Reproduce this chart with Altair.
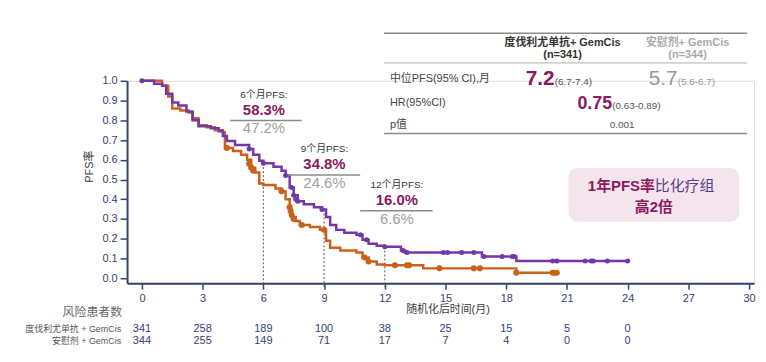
import altair as alt
import pandas as pd

# ---------------- data ----------------
durva_t = [0, 0.6, 1.0, 1.2, 1.5, 1.8, 2.2, 2.5, 2.8, 3.4, 3.8, 4.0, 4.2, 4.6, 5.3, 5.5, 5.8, 6.0,
           6.5, 6.9, 7.1, 7.3, 7.5, 7.7, 8.0, 8.5, 8.9, 9.1, 9.3, 9.6, 10.0, 10.6, 10.9, 11.2, 11.6,
           12.0, 12.8, 13.0, 16.8, 18.5, 24.0]
durva_s = [1.0, 0.985, 0.975, 0.935, 0.89, 0.875, 0.845, 0.80, 0.77, 0.76, 0.745, 0.72, 0.695, 0.675,
           0.655, 0.625, 0.595, 0.583, 0.565, 0.545, 0.52, 0.46, 0.42, 0.39, 0.375, 0.36, 0.348, 0.31,
           0.27, 0.245, 0.23, 0.22, 0.195, 0.175, 0.165, 0.16, 0.14, 0.13, 0.11, 0.087, 0.087]

plac_t = [0, 1.0, 1.3, 1.5, 1.9, 2.3, 2.5, 2.8, 3.2, 3.6, 4.0, 4.1, 4.5, 4.9, 5.2, 5.4, 5.6, 5.8, 6.0,
          6.6, 6.9, 7.1, 7.3, 7.4, 7.6, 7.8, 8.3, 8.8, 9.1, 9.3, 9.8, 10.6, 10.9, 11.2, 11.6, 12.0,
          13.9, 18.5, 20.5]
plac_s = [1.0, 0.975, 0.92, 0.86, 0.85, 0.84, 0.81, 0.775, 0.765, 0.75, 0.74, 0.66, 0.645, 0.625, 0.60,
          0.56, 0.535, 0.48, 0.472, 0.455, 0.44, 0.40, 0.35, 0.31, 0.29, 0.27, 0.26, 0.245, 0.19, 0.155,
          0.14, 0.13, 0.105, 0.085, 0.07, 0.066, 0.05, 0.028, 0.028]

durva_cens_t = [0, 5.3, 6.0, 7.1, 7.4, 7.5, 7.6, 7.7, 8.9, 10.8, 11.1, 12.0, 12.9, 13.1, 14.9, 15.1,
                15.8, 16.4, 16.9, 17.8, 18.3, 18.4, 20.3, 20.5, 21.9, 22.2, 22.3, 23.0, 24.0]
durva_cens_s = [1.0, 0.655, 0.583, 0.52, 0.46, 0.42, 0.40, 0.39, 0.348, 0.22, 0.195, 0.16, 0.14, 0.13,
                0.13, 0.13, 0.13, 0.13, 0.11, 0.11, 0.11, 0.11, 0.087, 0.087, 0.087, 0.087, 0.087,
                0.087, 0.087]

plac_cens_t = [4.2, 5.3, 5.4, 5.5, 6.9, 7.3, 7.35, 7.4, 7.5, 7.9, 9.0, 11.0, 11.2, 12.5, 13.1, 13.2,
               14.7, 16.4, 16.7, 18.5, 20.3, 20.4, 20.5]
plac_cens_s = [0.66, 0.58, 0.56, 0.545, 0.44, 0.36, 0.34, 0.32, 0.30, 0.27, 0.245, 0.105, 0.085,
               0.066, 0.066, 0.066, 0.05, 0.05, 0.05, 0.028, 0.028, 0.028, 0.028]

landmark_t = [6, 9, 12]
landmark_s = [0.583, 0.348, 0.16]

risk_t = [0, 3, 6, 9, 12, 15, 18, 21, 24]
risk_durva = [341, 258, 189, 100, 38, 25, 15, 5, 0]
risk_plac = [344, 255, 149, 71, 17, 7, 4, 0, 0]

x_ticks = [0, 3, 6, 9, 12, 15, 18, 21, 24, 27, 30]
y_ticks = [0.0, 0.1, 0.2, 0.3, 0.4, 0.5, 0.6, 0.7, 0.8, 0.9, 1.0]

# ---------------- styles ----------------
PURPLE = "#7437A8"
ORANGE = "#C8621A"
MAGENTA = "#8A1A5C"
GRAY = "#A0A0A0"
NAVY = "#33426E"
DARK = "#404040"
FONT = "Liberation Sans, Arial, Noto Sans CJK SC, sans-serif"

W, H = 632, 204
xs = alt.Scale(domain=[-0.735, 30.245], nice=False, zero=False)
ys = alt.Scale(domain=[-0.025, 1.0], nice=False, zero=False)

x_axis = alt.Axis(values=x_ticks, grid=False, domainColor=NAVY, domainWidth=2, tickColor=NAVY,
                  tickWidth=1.5, tickSize=6, labelColor=NAVY, labelFontSize=11, labelPadding=3,
                  title="随机化后时间(月)", titleFontSize=11, titleFontWeight="normal",
                  titleColor=DARK, titleX=323, titleY=27, titleBaseline="middle")
y_axis = alt.Axis(values=y_ticks, format=".1f", grid=False, domainColor=NAVY, domainWidth=2,
                  tickColor=NAVY, tickWidth=1.5, tickSize=7, labelColor=NAVY, labelFontSize=11,
                  labelPadding=3, title="PFS率", titleFontSize=11, titleFontWeight="normal",
                  titleColor=DARK, titleX=-38, titleY=86, titleBaseline="middle")

durva_df = pd.DataFrame({"t": durva_t, "s": durva_s})
plac_df = pd.DataFrame({"t": plac_t, "s": plac_s})
durva_c = pd.DataFrame({"t": durva_cens_t, "s": durva_cens_s})
plac_c = pd.DataFrame({"t": plac_cens_t, "s": plac_cens_s})
land_df = pd.DataFrame({"t": landmark_t, "s": landmark_s})


def X(field="t"):
    return alt.X(f"{field}:Q", scale=xs, axis=x_axis)


def Y(field="s"):
    return alt.Y(f"{field}:Q", scale=ys, axis=y_axis)


rules = alt.Chart(land_df).mark_rule(color="#555555", strokeDash=[2, 2], strokeWidth=1).encode(
    x=X(), y=Y(), y2=alt.value(H + 4))

plac_line = alt.Chart(plac_df).mark_line(interpolate="step-after", color=ORANGE, strokeWidth=2.5).encode(
    x=X(), y=Y())
durva_line = alt.Chart(durva_df).mark_line(interpolate="step-after", color=PURPLE, strokeWidth=2.5).encode(
    x=X(), y=Y())
plac_pts = alt.Chart(plac_c).mark_circle(color=ORANGE, size=38, opacity=1).encode(x=X(), y=Y())
durva_pts = alt.Chart(durva_c).mark_circle(color=PURPLE, size=26, opacity=1).encode(x=X(), y=Y())

risk1 = alt.Chart(pd.DataFrame({"t": risk_t, "n": risk_durva})).mark_text(
    fontSize=11, color=NAVY).encode(x=X(), y=alt.value(250), text="n:Q")
risk2 = alt.Chart(pd.DataFrame({"t": risk_t, "n": risk_plac})).mark_text(
    fontSize=11, color=NAVY).encode(x=X(), y=alt.value(262), text="n:Q")

ONE = alt.Data(values=[{}])
OX, OY = 128, 80  # page position of plot origin


def txt(s, x, y, size=11, color=DARK, weight="normal", align="center", baseline="middle"):
    return alt.Chart(ONE).mark_text(text=s, fontSize=size, color=color, fontWeight=weight,
                                    align=align, baseline=baseline).encode(
        x=alt.value(x - OX), y=alt.value(y - OY))


def hline(x1, x2, y, color, width=1.5):
    return alt.Chart(ONE).mark_rule(color=color, strokeWidth=width).encode(
        x=alt.value(x1 - OX), x2=alt.value(x2 - OX), y=alt.value(y - OY))


layers = []
# table
layers += [hline(387, 753, 32, "#8C8C8C", 1.5), hline(387, 753, 62, "#B0B0B0", 1),
           hline(387, 753, 133, "#8C8C8C", 1.5)]
layers += [txt("度伐利尤单抗+ GemCis", 567, 42, 11, "#333333", "bold"),
           txt("(n=341)", 567, 54, 11, "#333333", "bold"),
           txt("安慰剂+ GemCis", 693, 42, 11, "#AAAAAA", "bold"),
           txt("(n=344)", 693, 54, 11, "#AAAAAA", "bold"),
           txt("中位PFS(95% CI),月", 393, 78, 11, "#444444", align="left"),
           txt("HR(95%CI)", 393, 102, 11, "#444444", align="left"),
           txt("p值", 393, 125, 11, "#444444", align="left"),
           txt("7.2", 559, 84, 21, MAGENTA, "bold", align="right", baseline="alphabetic"),
           txt("(6.7-7.4)", 559, 84, 10, "#555555", align="left", baseline="alphabetic"),
           txt("5.7", 683, 84, 21, "#9A9A9A", align="right", baseline="alphabetic"),
           txt("(5.6-6.7)", 683, 84, 10, "#9A9A9A", align="left", baseline="alphabetic"),
           txt("0.75", 617, 108, 18, MAGENTA, "bold", align="right", baseline="alphabetic"),
           txt("(0.63-0.89)", 617, 108, 10, "#555555", align="left", baseline="alphabetic"),
           txt("0.001", 627, 125, 10, "#555555")]
# landmark annotations
for lab, top, bot, cx, y0, lx1, lx2 in [("6个月PFS:", "58.3%", "47.2%", 266, 94, 232, 304),
                                        ("9个月PFS:", "34.8%", "24.6%", 327, 149, 290, 363),
                                        ("12个月PFS:", "16.0%", "6.6%", 400, 185, 363, 436)]:
    layers += [txt(lab, cx, y0, 10, "#333333"),
               txt(top, cx, y0 + 15, 15, MAGENTA, "bold"),
               hline(lx1, lx2, y0 + 26, "#8C8C8C", 1.5),
               txt(bot, cx, y0 + 34, 15, GRAY)]
# highlight box
layers += [alt.Chart(ONE).mark_rect(fill="#F4E4EC", cornerRadius=9).encode(
    x=alt.value(573 - OX), x2=alt.value(745 - OX), y=alt.value(168 - OY), y2=alt.value(222 - OY)),
    txt("1年PFS率", 660, 186, 15, MAGENTA, "bold", align="right"),
    txt("比化疗组", 660, 186, 15, "#5A3A8A", align="left"),
    txt("高2倍", 659, 207, 15, MAGENTA, "bold")]
# risk table labels
layers += [txt("风险患者数", 123, 313, 12, "#666666", align="right"),
           txt("度伐利尤单抗 + GemCis", 122, 330, 9, "#555555", align="right"),
           txt("安慰剂 + GemCis", 122, 342, 9, "#555555", align="right")]

chart = alt.layer(rules, plac_line, durva_line, plac_pts, durva_pts, risk1, risk2, *layers).properties(
    width=W, height=H,
    autosize=alt.AutoSizeParams(type="none"),
    padding={"left": 120, "top": 72, "right": 4, "bottom": 70},
).configure_view(stroke=None).configure(font=FONT)

chart.save("out.html", embed_options={"renderer": "svg", "actions": False})
